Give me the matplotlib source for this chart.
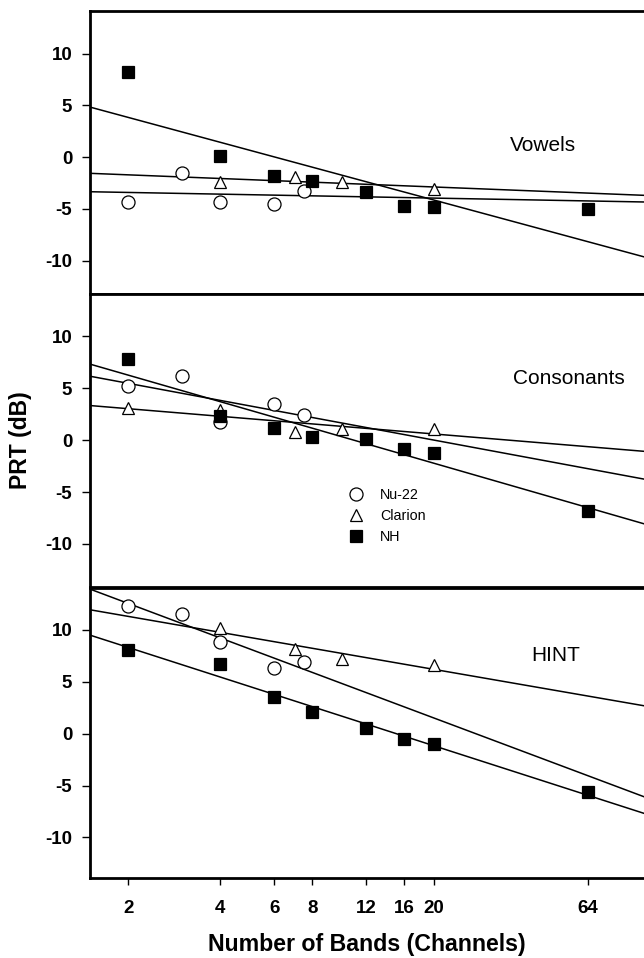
import numpy as np
import matplotlib
matplotlib.use("Agg")
import matplotlib.pyplot as plt

plt.rcParams['font.family'] = ['Liberation Sans', 'DejaVu Sans']

# ---------------- data ----------------
panel_names = ["Vowels", "Consonants", "HINT"]
xtick_values = [2, 4, 6, 8, 12, 16, 20, 64]
ytick_values = [-10, -5, 0, 5, 10]

nu22_bands = [2, 3, 4, 6, 7.5]
nh_bands = [2, 4, 6, 8, 12, 16, 20, 64]
clarion_bands_vowels = [4, 7, 10, 20]
clarion_bands_cons = [2, 4, 7, 10, 20]
clarion_bands_hint = [4, 7, 10, 20]

vowels_nu22 = [-4.3, -1.5, -4.3, -4.5, -3.25]
vowels_clarion = [-2.4, -1.9, -2.4, -3.1]
vowels_nh = [8.2, 0.1, -1.8, -2.3, -3.4, -4.7, -4.8, -5.0]

cons_nu22 = [5.2, 6.2, 1.7, 3.5, 2.4]
cons_clarion = [3.05, 2.95, 0.8, 1.1, 1.05]
cons_nh = [7.8, 2.3, 1.2, 0.3, 0.15, -0.9, -1.2, -6.8]

hint_nu22 = [12.3, 11.5, 8.8, 6.35, 6.95]
hint_clarion = [10.2, 8.2, 7.25, 6.6]
hint_nh = [8.05, 6.7, 3.55, 2.1, 0.5, -0.55, -0.95, -5.65]

series_labels = ["Nu-22", "Clarion", "NH"]

panels = [
    (nu22_bands, vowels_nu22, clarion_bands_vowels, vowels_clarion, nh_bands, vowels_nh),
    (nu22_bands, cons_nu22, clarion_bands_cons, cons_clarion, nh_bands, cons_nh),
    (nu22_bands, hint_nu22, clarion_bands_hint, hint_clarion, nh_bands, hint_nh),
]

# ---------------- layout ----------------
W, H = 644, 958
fig = plt.figure(figsize=(W / 100, H / 100), dpi=100)

left_px, right_px = 90.3, 644
panel_px = [(11, 294), (294, 587), (588, 878)]
ylims = [(-13.2, 14.1), (-14.15, 14.08), (-13.92, 14.05)]
xlim = (1.5, 97.6)
label_pos = [(0.758, 0.523), (0.763, 0.713), (0.796, 0.766)]

styles = [
    dict(marker='o', mfc='white', mec='black', ms=9.4, mew=0.9),
    dict(marker='^', mfc='white', mec='black', ms=9.0, mew=0.9),
    dict(marker='s', mfc='black', mec='black', ms=8.8, mew=0.9),
]

axes = []
for i, ((top, bot), yl) in enumerate(zip(panel_px, ylims)):
    ax = fig.add_axes([left_px / W, 1 - bot / H, (right_px - left_px) / W, (bot - top) / H])
    axes.append(ax)
    ax.set_xscale('log')
    ax.set_xlim(*xlim)
    ax.set_ylim(*yl)
    xs_line = np.geomspace(xlim[0], xlim[1], 200)
    data = panels[i]
    for k in range(3):
        bx = np.array(data[2 * k], dtype=float)
        by = np.array(data[2 * k + 1], dtype=float)
        coef = np.polyfit(np.log(bx), by, 1)
        ax.plot(xs_line, np.polyval(coef, np.log(xs_line)), color='black', lw=1.1, zorder=2)
    for k in range(3):
        bx = data[2 * k]
        by = data[2 * k + 1]
        ax.plot(bx, by, ls='none', zorder=3, label=series_labels[k], **styles[k])
    ax.set_yticks(ytick_values)
    ax.set_yticklabels([str(v) for v in ytick_values], fontsize=13.5, fontweight='bold')
    ax.tick_params(axis='y', direction='out', length=6, width=1.0, pad=7)
    ax.minorticks_off()
    ax.set_xticks(xtick_values)
    if i == 2:
        ax.set_xticklabels([str(v) for v in xtick_values], fontsize=13.5, fontweight='bold')
        ax.tick_params(axis='x', direction='out', length=5, width=1.0, pad=11)
    else:
        ax.set_xticklabels([])
        ax.tick_params(axis='x', length=0)
    ax.xaxis.set_minor_locator(matplotlib.ticker.NullLocator())
    for s in ['left', 'top', 'bottom']:
        ax.spines[s].set_linewidth(2.0)
    ax.spines['right'].set_visible(False)
    ax.text(label_pos[i][0], label_pos[i][1], panel_names[i], transform=ax.transAxes,
            fontsize=15, ha='left', va='center')

leg = axes[1].legend(loc='upper left', bbox_to_anchor=(0.467, 0.338), frameon=False,
                     fontsize=10.3, handlelength=1.0, handletextpad=1.2,
                     labelspacing=0.5, borderpad=0, borderaxespad=0, numpoints=1)

fig.text(20.5 / W, 1 - 440 / H, "PRT (dB)", rotation=90, fontsize=16.5, fontweight='bold',
         ha='center', va='center')
fig.text(367 / W, 1 - 945 / H, "Number of Bands (Channels)", fontsize=16.7, fontweight='bold',
         ha='center', va='center')

fig.savefig("out.png", dpi=100)
